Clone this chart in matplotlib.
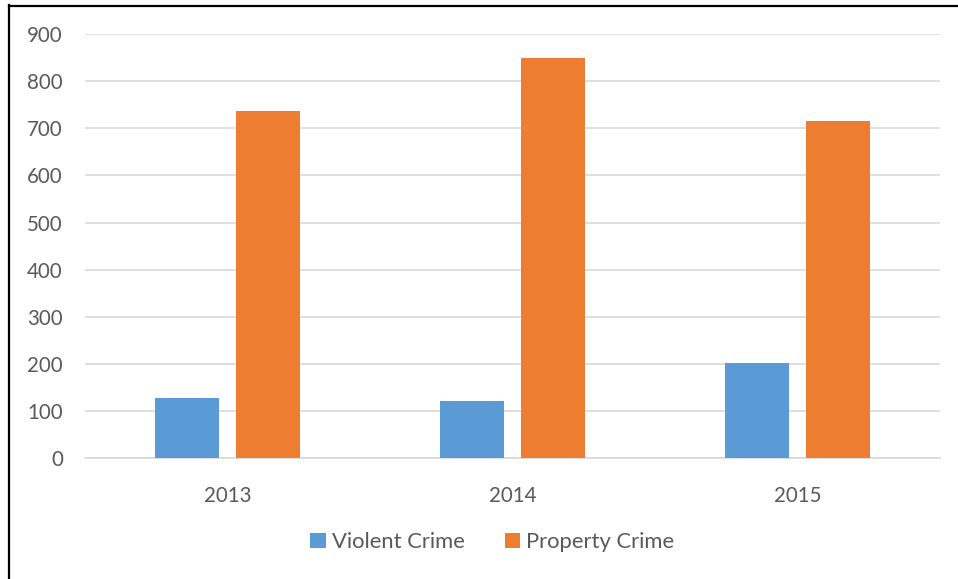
import numpy as np
import matplotlib.pyplot as plt
from matplotlib.lines import Line2D

plt.rcParams['font.family'] = ['Lato', 'DejaVu Sans']

years = ['2013', '2014', '2015']
violent = [127, 121, 203]
property_crime = [737, 849, 716]
y_ticks = [0, 100, 200, 300, 400, 500, 600, 700, 800, 900]

BLUE = '#5B9BD5'
ORANGE = '#ED7D31'
GREY_TEXT = '#595959'
GRID = '#D9D9D9'

fig = plt.figure(figsize=(9.58, 5.79), dpi=100)
ax = fig.add_axes([0.0887, 0.2085, 0.8925, 0.7328])

x = np.arange(len(years))
w = 0.225
off = 0.142
ax.bar(x - off, violent, w, color=BLUE, label='Violent Crime', zorder=3)
ax.bar(x + off, property_crime, w, color=ORANGE, label='Property Crime', zorder=3)

ax.set_xlim(-0.5, len(years) - 0.5)
ax.set_ylim(0, 900)
ax.set_yticks(y_ticks)
ax.set_xticks(x)
ax.set_xticklabels(years)
ax.grid(axis='y', color=GRID, linewidth=1.2, zorder=0)
ax.set_axisbelow(True)

for side in ['top', 'right', 'left']:
    ax.spines[side].set_visible(False)
ax.spines['bottom'].set_color(GRID)
ax.spines['bottom'].set_linewidth(1.2)
ax.tick_params(axis='both', length=0, labelsize=14.8, labelcolor=GREY_TEXT)
ax.tick_params(axis='y', pad=16)
ax.tick_params(axis='x', pad=20)

leg = fig.legend(loc='center', bbox_to_anchor=(0.514, 0.064), ncol=2, frameon=False,
                 fontsize=15.8, handlelength=0.7, handleheight=0.7,
                 handletextpad=0.3, columnspacing=1.8)
for t in leg.get_texts():
    t.set_color(GREY_TEXT)

# outer frame (left and top edges only, the rest is cut off)
fig.add_artist(Line2D([9 / 958, 9 / 958], [0, 1 - 5 / 579], color='black', linewidth=1.6,
                      transform=fig.transFigure))
fig.add_artist(Line2D([9 / 958, 1], [1 - 5.5 / 579, 1 - 5.5 / 579], color='black', linewidth=1.6,
                      transform=fig.transFigure))

fig.savefig('out.png', dpi=100)
